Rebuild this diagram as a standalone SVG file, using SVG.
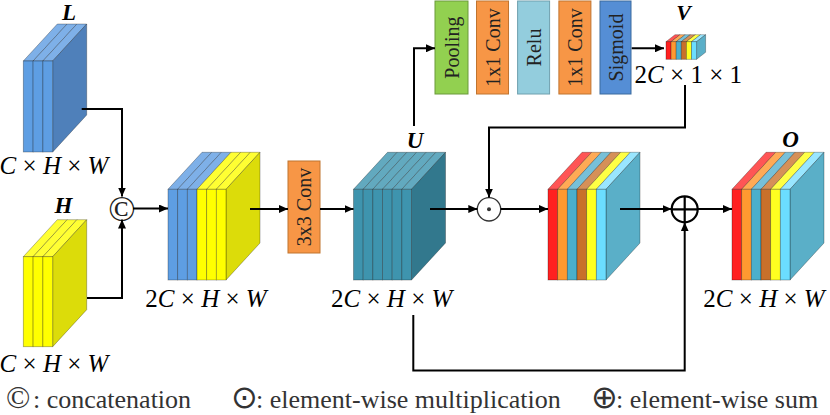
<svg xmlns="http://www.w3.org/2000/svg" width="830" height="415" viewBox="0 0 830 415">
<style>
  .lbl { font-family: "Liberation Serif", "Times New Roman", serif; font-size: 25px; fill: #000; }
  .it { font-style: italic; }
  .bi { font-family: "Liberation Serif", "Times New Roman", serif; font-size: 23px; font-weight: bold; font-style: italic; fill: #000; text-anchor: middle; }
  .boxt { font-family: "Liberation Serif", "Times New Roman", serif; font-size: 20px; fill: #222; text-anchor: middle; }
  .blk * { stroke: rgba(0,0,0,0.35); stroke-width: 0.8; }
  .conn path { fill: none; stroke: #000; stroke-width: 2; }
  .bx { stroke-width: 1; }
</style>
<defs>
  <marker id="ah" markerUnits="userSpaceOnUse" markerWidth="9" markerHeight="8" refX="9" refY="4" orient="auto">
    <path d="M0,0 L9,4 L0,8 z" fill="#000"/>
  </marker>
</defs>

<!-- L block -->
<g id="L" class="blk" transform="translate(23.3,61)">
  <polygon points="0,0 34,-37 43.8,-37 9.8,0" fill="#7EB0E8"/>
  <polygon points="9.8,0 43.8,-37 53.6,-37 19.6,0" fill="#7EB0E8"/>
  <polygon points="19.6,0 53.6,-37 63.4,-37 29.4,0" fill="#7EB0E8"/>
  <polygon points="29.4,0 63.4,-37 63.4,54 29.4,91" fill="#4F80BA"/>
  <rect x="0" y="0" width="9.8" height="91" fill="#5E9EE3"/>
  <rect x="9.8" y="0" width="9.8" height="91" fill="#5E9EE3"/>
  <rect x="19.6" y="0" width="9.8" height="91" fill="#5E9EE3"/>
</g>
<text class="bi" x="69" y="20">L</text>
<text class="lbl" x="54" y="174" text-anchor="middle"><tspan class="it">C</tspan> × <tspan class="it">H</tspan> × <tspan class="it">W</tspan></text>

<!-- H block -->
<g id="H" class="blk" transform="translate(23.3,256.7)">
  <polygon points="0,0 34,-37 43.8,-37 9.8,0" fill="#FFFF33"/>
  <polygon points="9.8,0 43.8,-37 53.6,-37 19.6,0" fill="#FFFF33"/>
  <polygon points="19.6,0 53.6,-37 63.4,-37 29.4,0" fill="#FFFF33"/>
  <polygon points="29.4,0 63.4,-37 63.4,53 29.4,90" fill="#DCDC0A"/>
  <rect x="0" y="0" width="9.8" height="90" fill="#FFFF00"/>
  <rect x="9.8" y="0" width="9.8" height="90" fill="#FFFF00"/>
  <rect x="19.6" y="0" width="9.8" height="90" fill="#FFFF00"/>
</g>
<text class="bi" x="63.5" y="212.7">H</text>
<text class="lbl" x="54" y="371.5" text-anchor="middle"><tspan class="it">C</tspan> × <tspan class="it">H</tspan> × <tspan class="it">W</tspan></text>

<!-- concat symbol -->
<g id="concat">
  <text x="122" y="220.5" text-anchor="middle" style="font-family: 'Liberation Serif', serif; font-size: 36px; fill: #222;">©</text>
</g>

<!-- Concatenated block -->
<g id="cat" class="blk" transform="translate(168,189.3)">
  <polygon points="0,0 34,-37 43.67,-37 9.67,0" fill="#7EB0E8"/>
  <polygon points="9.67,0 43.67,-37 53.33,-37 19.33,0" fill="#7EB0E8"/>
  <polygon points="19.33,0 53.33,-37 63,-37 29,0" fill="#7EB0E8"/>
  <polygon points="29,0 63,-37 72.67,-37 38.67,0" fill="#FFFF33"/>
  <polygon points="38.67,0 72.67,-37 82.33,-37 48.33,0" fill="#FFFF33"/>
  <polygon points="48.33,0 82.33,-37 92,-37 58,0" fill="#FFFF33"/>
  <polygon points="58,0 92,-37 92,53.7 58,90.7" fill="#DCDC0A"/>
  <rect x="0" y="0" width="9.67" height="90.7" fill="#5E9EE3"/>
  <rect x="9.67" y="0" width="9.67" height="90.7" fill="#5E9EE3"/>
  <rect x="19.33" y="0" width="9.67" height="90.7" fill="#5E9EE3"/>
  <rect x="29" y="0" width="9.67" height="90.7" fill="#FFFF00"/>
  <rect x="38.67" y="0" width="9.67" height="90.7" fill="#FFFF00"/>
  <rect x="48.33" y="0" width="9.67" height="90.7" fill="#FFFF00"/>
</g>
<text class="lbl" x="206" y="307" text-anchor="middle">2<tspan class="it">C</tspan> × <tspan class="it">H</tspan> × <tspan class="it">W</tspan></text>

<!-- 3x3 Conv -->
<g id="conv3">
  <rect class="bx" x="288" y="161" width="32" height="92" fill="#F79646" stroke="#C0742F"/>
  <text class="boxt" transform="translate(304,207) rotate(-90)" dy="7">3x3 Conv</text>
</g>

<!-- U block -->
<g id="U" class="blk" transform="translate(353.5,189.3)">
  <polygon points="0,0 34,-37 43.67,-37 9.67,0" fill="#62A9BF"/>
  <polygon points="9.67,0 43.67,-37 53.33,-37 19.33,0" fill="#62A9BF"/>
  <polygon points="19.33,0 53.33,-37 63,-37 29,0" fill="#62A9BF"/>
  <polygon points="29,0 63,-37 72.67,-37 38.67,0" fill="#62A9BF"/>
  <polygon points="38.67,0 72.67,-37 82.33,-37 48.33,0" fill="#62A9BF"/>
  <polygon points="48.33,0 82.33,-37 92,-37 58,0" fill="#62A9BF"/>
  <polygon points="58,0 92,-37 92,53.7 58,90.7" fill="#32788D"/>
  <rect x="0" y="0" width="9.67" height="90.7" fill="#3E94AE"/>
  <rect x="9.67" y="0" width="9.67" height="90.7" fill="#3E94AE"/>
  <rect x="19.33" y="0" width="9.67" height="90.7" fill="#3E94AE"/>
  <rect x="29" y="0" width="9.67" height="90.7" fill="#3E94AE"/>
  <rect x="38.67" y="0" width="9.67" height="90.7" fill="#3E94AE"/>
  <rect x="48.33" y="0" width="9.67" height="90.7" fill="#3E94AE"/>
</g>
<text class="bi" x="415" y="148">U</text>
<text class="lbl" x="391.7" y="306.7" text-anchor="middle">2<tspan class="it">C</tspan> × <tspan class="it">H</tspan> × <tspan class="it">W</tspan></text>

<!-- Attention branch boxes -->
<g id="pool">
  <rect class="bx" x="435" y="1" width="33" height="93" fill="#92D050" stroke="#6A9A3A"/>
  <text class="boxt" transform="translate(451.5,47.5) rotate(-90)" dy="7">Pooling</text>
</g>
<g id="conv1a">
  <rect class="bx" x="476.5" y="1" width="32" height="93" fill="#F79646" stroke="#C0742F"/>
  <text class="boxt" transform="translate(492.5,47.5) rotate(-90)" dy="7">1x1 Conv</text>
</g>
<g id="relu">
  <rect class="bx" x="517.6" y="1" width="32" height="93" fill="#93CDDD" stroke="#6FA0AE"/>
  <text class="boxt" transform="translate(533.6,47.5) rotate(-90)" dy="7">Relu</text>
</g>
<g id="conv1b">
  <rect class="bx" x="558.9" y="1" width="32" height="93" fill="#F79646" stroke="#C0742F"/>
  <text class="boxt" transform="translate(574.9,47.5) rotate(-90)" dy="7">1x1 Conv</text>
</g>
<g id="sigmoid">
  <rect class="bx" x="600" y="1" width="31" height="93" fill="#558ED5" stroke="#3A6A9E"/>
  <text class="boxt" transform="translate(615.5,47.5) rotate(-90)" dy="7">Sigmoid</text>
</g>

<!-- V block -->
<g id="V" class="blk" transform="translate(666,41.7)">
  <polygon points="0,0 9,-7 14.1,-7 5.1,0" fill="#FF5555"/>
  <polygon points="5.1,0 14.1,-7 19.2,-7 10.2,0" fill="#FFAA55"/>
  <polygon points="10.2,0 19.2,-7 24.3,-7 15.3,0" fill="#77C0D8"/>
  <polygon points="15.3,0 24.3,-7 29.4,-7 20.4,0" fill="#D59058"/>
  <polygon points="20.4,0 29.4,-7 34.5,-7 25.5,0" fill="#FFFF44"/>
  <polygon points="25.5,0 34.5,-7 39.6,-7 30.6,0" fill="#99E6FF"/>
  <polygon points="30.6,0 39.6,-7 39.6,10.6 30.6,17.6" fill="#5AAFC8"/>
  <rect x="0" y="0" width="5.1" height="17.6" fill="#FF2020"/>
  <rect x="5.1" y="0" width="5.1" height="17.6" fill="#FF9930"/>
  <rect x="10.2" y="0" width="5.1" height="17.6" fill="#4BAFCB"/>
  <rect x="15.3" y="0" width="5.1" height="17.6" fill="#C8702A"/>
  <rect x="20.4" y="0" width="5.1" height="17.6" fill="#FFFF20"/>
  <rect x="25.5" y="0" width="5.1" height="17.6" fill="#6BDDFF"/>
</g>
<text class="bi" x="683.7" y="20" style="font-size:22px">V</text>
<text class="lbl" x="688.3" y="82.7" text-anchor="middle">2<tspan class="it">C</tspan> × 1 × 1</text>

<!-- element-wise multiplication -->
<g id="mul">
  <circle cx="489" cy="209.3" r="11.7" fill="#fff" stroke="#333" stroke-width="1.3"/>
  <circle cx="489" cy="209.3" r="2" fill="#333"/>
</g>

<!-- product block -->
<g id="prod" class="blk" transform="translate(548,189.3)">
  <polygon points="0,0 34,-37 43.67,-37 9.67,0" fill="#FF5555"/>
  <polygon points="9.67,0 43.67,-37 53.33,-37 19.33,0" fill="#FFAA55"/>
  <polygon points="19.33,0 53.33,-37 63,-37 29,0" fill="#77C0D8"/>
  <polygon points="29,0 63,-37 72.67,-37 38.67,0" fill="#D59058"/>
  <polygon points="38.67,0 72.67,-37 82.33,-37 48.33,0" fill="#FFFF44"/>
  <polygon points="48.33,0 82.33,-37 92,-37 58,0" fill="#99E6FF"/>
  <polygon points="58,0 92,-37 92,53.7 58,90.7" fill="#5AAFC8"/>
  <rect x="0" y="0" width="9.67" height="90.7" fill="#FF2020"/>
  <rect x="9.67" y="0" width="9.67" height="90.7" fill="#FF9930"/>
  <rect x="19.33" y="0" width="9.67" height="90.7" fill="#4BAFCB"/>
  <rect x="29" y="0" width="9.67" height="90.7" fill="#C8702A"/>
  <rect x="38.67" y="0" width="9.67" height="90.7" fill="#FFFF20"/>
  <rect x="48.33" y="0" width="9.67" height="90.7" fill="#6BDDFF"/>
</g>

<!-- element-wise sum -->
<g id="sum">
  <circle cx="684.7" cy="209.3" r="13" fill="#fff" stroke="#000" stroke-width="2.2"/>
  <path d="M671.7,209.3 H697.7 M684.7,196.3 V222.3" stroke="#000" stroke-width="2.2"/>
</g>

<!-- O block -->
<g id="O" class="blk" transform="translate(732,189.3)">
  <polygon points="0,0 34,-37 43.67,-37 9.67,0" fill="#FF5555"/>
  <polygon points="9.67,0 43.67,-37 53.33,-37 19.33,0" fill="#FFAA55"/>
  <polygon points="19.33,0 53.33,-37 63,-37 29,0" fill="#77C0D8"/>
  <polygon points="29,0 63,-37 72.67,-37 38.67,0" fill="#D59058"/>
  <polygon points="38.67,0 72.67,-37 82.33,-37 48.33,0" fill="#FFFF44"/>
  <polygon points="48.33,0 82.33,-37 92,-37 58,0" fill="#99E6FF"/>
  <polygon points="58,0 92,-37 92,53.7 58,90.7" fill="#5AAFC8"/>
  <rect x="0" y="0" width="9.67" height="90.7" fill="#FF2020"/>
  <rect x="9.67" y="0" width="9.67" height="90.7" fill="#FF9930"/>
  <rect x="19.33" y="0" width="9.67" height="90.7" fill="#4BAFCB"/>
  <rect x="29" y="0" width="9.67" height="90.7" fill="#C8702A"/>
  <rect x="38.67" y="0" width="9.67" height="90.7" fill="#FFFF20"/>
  <rect x="48.33" y="0" width="9.67" height="90.7" fill="#6BDDFF"/>
</g>
<text class="bi" x="790.5" y="146.7">O</text>
<text class="lbl" x="764" y="306.7" text-anchor="middle">2<tspan class="it">C</tspan> × <tspan class="it">H</tspan> × <tspan class="it">W</tspan></text>

<!-- connectors -->
<g id="connectors" class="conn">
  <path d="M81.7,109 H122 V196.5" marker-end="url(#ah)"/>
  <path d="M87,298 H122 V219.5" marker-end="url(#ah)"/>
  <path d="M133,208.5 H168" marker-end="url(#ah)"/>
  <path d="M250,209 H288" marker-end="url(#ah)"/>
  <path d="M320,209 H353.5" marker-end="url(#ah)"/>
  <path d="M430,209 H477.3" marker-end="url(#ah)"/>
  <path d="M414,126 V48.3 H435" marker-end="url(#ah)"/>
  <path d="M631.7,48.3 H664" marker-end="url(#ah)"/>
  <path d="M685,85 V127.5 H489 V197.6" marker-end="url(#ah)"/>
  <path d="M500.7,209 H548" marker-end="url(#ah)"/>
  <path d="M620,209 H671.7" marker-end="url(#ah)"/>
  <path d="M697.7,209 H732" marker-end="url(#ah)"/>
  <path d="M413.3,315 V370.5 H684.7 V222.3" marker-end="url(#ah)"/>
</g>

<!-- legend -->
<g id="legend" style="font-family: 'Liberation Serif', 'Times New Roman', serif; fill: #333;">
  <text x="6" y="408" style="font-family: 'Liberation Serif', serif; font-size: 32px;">©</text>
  <text x="33" y="408" style="font-family: 'Liberation Serif', 'Times New Roman', serif; font-size: 26px;">: concatenation</text>
  <text x="231" y="408" style="font-family: 'DejaVu Sans', sans-serif; font-size: 32px;">⊙</text>
  <text x="256" y="408" style="font-family: 'Liberation Serif', 'Times New Roman', serif; font-size: 26px;">: element-wise multiplication</text>
  <text x="591" y="408" style="font-family: 'DejaVu Sans', sans-serif; font-size: 32px;">⊕</text>
  <text x="616" y="408" style="font-family: 'Liberation Serif', 'Times New Roman', serif; font-size: 26px;">: element-wise sum</text>
</g>
</svg>
